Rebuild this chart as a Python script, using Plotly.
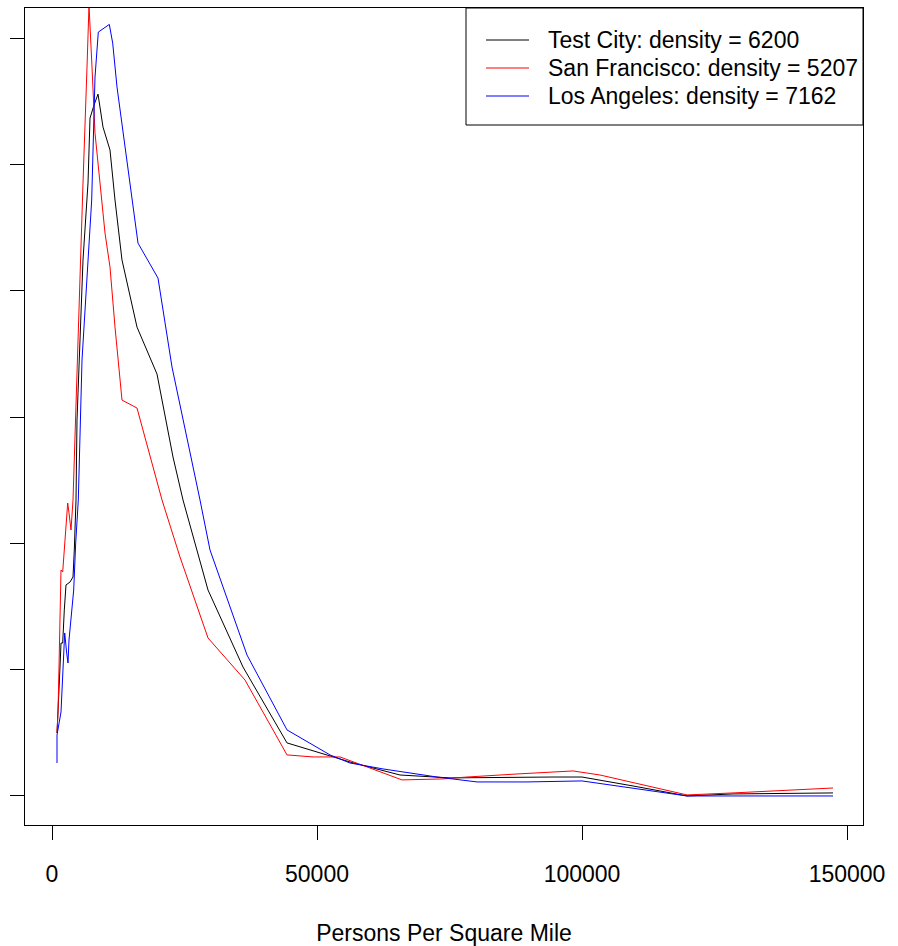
import plotly.graph_objects as go

# ---- data (density in units of 1e-5 per person/sq mi) ----
test_x = [943, 1321, 1509, 1698, 2019, 2321, 2642, 3396, 3962, 4208, 4528, 4717, 5849, 6792,
          7170, 7925, 8679, 9623, 10943, 11887, 13208, 16038, 19811, 22830, 24717, 29434,
          36038, 44340, 51887, 56226, 65660, 75094, 94528, 100000, 109623, 119811, 128491, 147358]
test_y = [0.499, 0.784, 1.021, 1.211, 1.211, 1.473, 1.671, 1.694, 1.734, 1.948, 2.344, 2.977,
          4.244, 4.854, 5.368, 5.471, 5.558, 5.297, 5.115, 4.719, 4.244, 3.713, 3.341, 2.684,
          2.344, 1.631, 1.021, 0.420, 0.325, 0.269, 0.166, 0.143, 0.150, 0.150, 0.079, 0.0,
          0.016, 0.024]

sf_x = [943, 1132, 1321, 1509, 1698, 2019, 2321, 2642, 2962, 3208, 3585, 3962, 5283, 5849,
        6604, 6981, 7547, 8113, 9057, 10000, 10943, 11887, 13208, 16038, 20755, 24151, 29434,
        36415, 44340, 49245, 54340, 59434, 66038, 73774, 78302, 87736, 98302, 103396, 119811,
        128491, 147358]
sf_y = [0.499, 0.665, 1.021, 1.449, 1.789, 1.774, 1.932, 2.090, 2.320, 2.241, 2.106, 2.344,
        4.188, 4.854, 5.772, 6.263, 5.772, 5.249, 4.854, 4.458, 4.188, 3.713, 3.135, 3.072,
        2.344, 1.892, 1.251, 0.918, 0.325, 0.309, 0.309, 0.230, 0.127, 0.135, 0.150, 0.174,
        0.198, 0.166, 0.008, 0.024, 0.063]

la_x = [943, 943, 1698, 1887, 2396, 2774, 3019, 3208, 3717, 4094, 4472, 4962, 5660, 6792,
        7490, 8113, 8736, 10811, 11453, 12264, 13396, 15094, 16226, 20000, 22642, 27925,
        29811, 36792, 44340, 52453, 56226, 62453, 72642, 80189, 89623, 100000, 109623,
        119811, 147358]
la_y = [0.261, 0.483, 0.665, 0.839, 1.291, 1.132, 1.053, 1.235, 1.449, 1.631, 2.003, 2.344,
        3.452, 4.244, 4.719, 5.693, 6.049, 6.110, 5.962, 5.614, 5.249, 4.719, 4.378, 4.101,
        3.397, 2.344, 1.948, 1.116, 0.523, 0.325, 0.261, 0.214, 0.150, 0.111, 0.111, 0.119,
        0.063, 0.0, 0.0]

series_names = ["Test City: density = 6200",
                "San Francisco: density = 5207",
                "Los Angeles: density = 7162"]
series_colors = ["#000000", "#FF0000", "#0000FF"]
x_ticks = [0, 50000, 100000, 150000]
x_tick_labels = ["0", "50000", "100000", "150000"]
y_ticks = [0, 1, 2, 3, 4, 5, 6]

FONT = "Liberation Sans, Arial, sans-serif"

fig = go.Figure()
for xs, ys, name, col in zip([test_x, sf_x, la_x], [test_y, sf_y, la_y],
                             series_names, series_colors):
    fig.add_trace(go.Scatter(x=xs, y=ys, mode="lines", name=name,
                             line=dict(color=col, width=1), showlegend=False))

# Legend drawn as box + sample lines + text (paper coordinates)
L, R, T, B = 25, 863, 8, 825
W, H = R - L, B - T
def px(x):
    return (x - L) / W
def py(y):
    return (B - y) / H

shapes = [dict(type="rect", xref="paper", yref="paper",
               x0=px(466), x1=1.0, y0=py(125), y1=1.0,
               line=dict(color="black", width=1), fillcolor="white", layer="above")]
annotations = []
rows = [40, 68, 96]
for name, col, ry in zip(series_names, series_colors, rows):
    shapes.append(dict(type="line", xref="paper", yref="paper",
                       x0=px(486), x1=px(529), y0=py(ry), y1=py(ry),
                       line=dict(color=col, width=1), layer="above"))
    annotations.append(dict(xref="paper", yref="paper", x=px(546), y=py(ry),
                            text=name, showarrow=False, xanchor="left", yanchor="middle",
                            font=dict(family=FONT, size=23, color="black")))

fig.update_layout(
    width=898, height=946,
    margin=dict(l=L, r=898 - R, t=T, b=946 - B, pad=0, autoexpand=False),
    paper_bgcolor="white", plot_bgcolor="white",
    font=dict(family=FONT, size=23, color="black"),
    shapes=shapes, annotations=annotations,
    showlegend=False,
)
fig.update_xaxes(
    range=[-5094, 153019], tickvals=x_ticks, ticktext=x_tick_labels,
    ticks="outside", ticklen=14, tickwidth=1, tickcolor="black",
    showline=True, linecolor="black", linewidth=1, mirror=True,
    showgrid=False, zeroline=False, ticklabelstandoff=14, automargin=False,
    tickfont=dict(family=FONT, size=23, color="black"),
    title=dict(text="Persons Per Square Mile", standoff=40,
               font=dict(family=FONT, size=23, color="black")),
)
fig.update_yaxes(
    range=[-0.23, 6.24], tickvals=y_ticks, showticklabels=False,
    ticks="outside", ticklen=14, tickwidth=1, tickcolor="black",
    showline=True, linecolor="black", linewidth=1, mirror=True,
    showgrid=False, zeroline=False, automargin=False,
)

fig.write_html("out.html")
